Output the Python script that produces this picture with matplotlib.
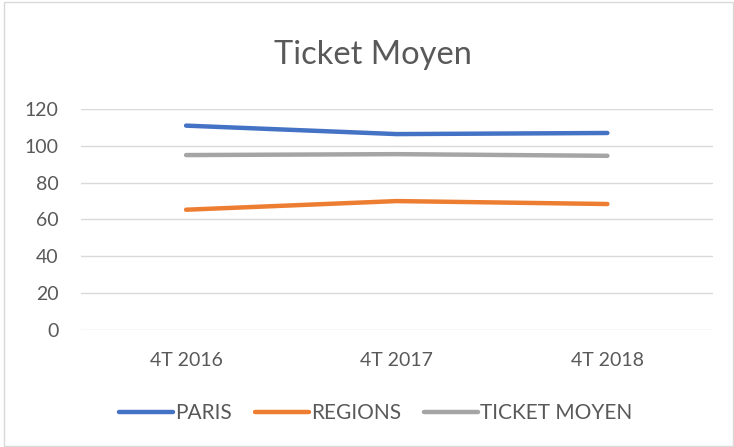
import matplotlib.pyplot as plt
from matplotlib.patches import Rectangle

categories = ["4T 2016", "4T 2017", "4T 2018"]
paris = [111, 106.4, 107]
regions = [65.3, 70, 68.4]
ticket_moyen = [95, 95.5, 94.6]
y_ticks = [0, 20, 40, 60, 80, 100, 120]

plt.rcParams['font.family'] = ['Lato', 'DejaVu Sans']
txt = '#595959'

fig = plt.figure(figsize=(7.34, 4.47), dpi=100)
ax = fig.add_axes([0.110, 0.262, 0.861, 0.494])

x = range(len(categories))
ax.plot(x, paris, color='#4472C4', lw=3.2, solid_capstyle='round', label='PARIS')
ax.plot(x, regions, color='#ED7D31', lw=3.2, solid_capstyle='round', label='REGIONS')
ax.plot(x, ticket_moyen, color='#A5A5A5', lw=3.2, solid_capstyle='round', label='TICKET MOYEN')

ax.set_xlim(-0.5, len(categories) - 0.5)
ax.set_ylim(0, 120)
ax.set_yticks(y_ticks)
ax.set_xticks(list(x))
ax.set_xticklabels(categories)
ax.grid(axis='y', color='#D9D9D9', lw=1)
ax.set_axisbelow(True)
for s in ax.spines.values():
    s.set_visible(False)
ax.tick_params(length=0, labelsize=14, labelcolor=txt)
ax.tick_params(axis='x', pad=16)
ax.tick_params(axis='y', pad=16)

fig.text(0.508, 0.878, 'Ticket Moyen', ha='center', va='center', fontsize=23.5, color=txt)

fig.legend(loc='center', bbox_to_anchor=(0.512, 0.075), ncol=3, frameon=False,
           fontsize=15, labelcolor=txt, handlelength=2.6, handletextpad=0.1,
           columnspacing=1.1)

fig.patches.append(Rectangle((0.006, 0.002), 0.992, 0.994, transform=fig.transFigure,
                             fill=False, edgecolor='#D9D9D9', lw=1))

fig.savefig('out.png', dpi=100)
